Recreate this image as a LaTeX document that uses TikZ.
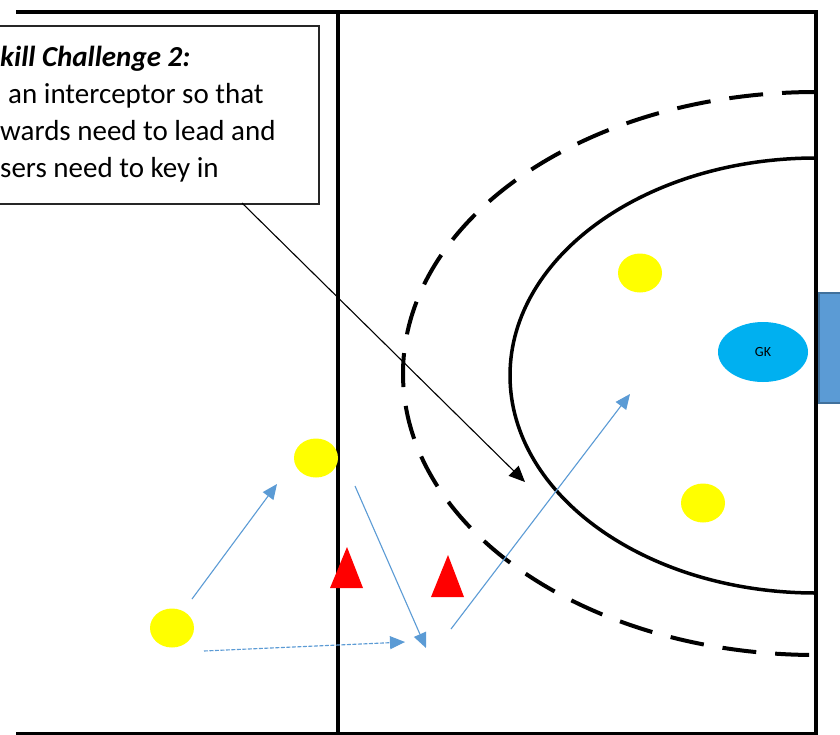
\documentclass[tikz,border=0pt]{standalone}
\usepackage{fontspec}
\setmainfont{Carlito}
\usetikzlibrary{shapes.geometric,arrows.meta}
\definecolor{arrowblue}{HTML}{5B9BD5}
\definecolor{gkblue}{HTML}{00B0F0}
\definecolor{goalblue}{HTML}{5B9BD5}
\definecolor{goaledge}{HTML}{41719C}
\definecolor{dotyellow}{HTML}{FFFF00}
\definecolor{conered}{HTML}{FF0000}
\tikzset{
  pitchline/.style={line width=4pt, black},
  player/.style={ellipse, fill=dotyellow, minimum width=44pt, minimum height=39pt, inner sep=0pt},
  cone/.style={fill=conered, draw=none},
  pass/.style={arrowblue, line width=1.1pt, -{Triangle[length=15pt,width=13pt]}},
  notetext/.style={anchor=base west, inner sep=0pt, font=\fontsize{29}{38}\selectfont},
}
\begin{document}
\begin{tikzpicture}[x=1pt,y=-1pt]
\useasboundingbox (0,0) rectangle (840,734);
\clip (0,0) rectangle (840,734);
\fill[white] (0,0) rectangle (840,734);
% goal post block
\node[draw=goaledge, fill=goalblue, line width=1.5pt, anchor=north west, minimum width=30pt, minimum height=110pt, inner sep=0pt] (goal) at (818,292) {};
% pitch lines
\draw[pitchline] (16,12) -- (818,12);
\draw[pitchline, line width=3pt] (16,733) -- (818,733);
\draw[pitchline] (338,10) -- (338,736);
\draw[pitchline] (816,10) -- (816,736);
% circles
\draw[line width=4pt, dash pattern=on 34pt off 19pt] (816,92) arc[start angle=90, end angle=270, x radius=413pt, y radius=281.5pt];
\draw[line width=3.5pt] (816,158) arc[start angle=90, end angle=270, x radius=306pt, y radius=217.5pt];
% GK
\node[ellipse, fill=gkblue, minimum width=90pt, minimum height=60pt, inner sep=0pt, font=\fontsize{14}{16}\selectfont] (gk) at (763,352) {GK};
% players
\node[player] (p1) at (640,273) {};
\node[player] (p2) at (703,503) {};
\node[player] (p3) at (316,458) {};
\node[player] (p4) at (172,628) {};
% cones
\path[cone] (330,588) -- (347,547) -- (363,588) -- cycle;
\path[cone] (431,597) -- (448,555) -- (464,597) -- cycle;
% note box
\node[draw=black!85, line width=1.5pt, fill=white, anchor=north west, minimum width=328pt, minimum height=178pt, inner sep=0pt] (note) at (-10,25) {};
\node[notetext, font=\fontsize{29}{38}\selectfont\bfseries\itshape] (t1) at (0,66) {kill Challenge 2:};
\node[notetext] (t2) at (8,103) {an interceptor so that};
\node[notetext] (t3) at (0,140) {wards need to lead and};
\node[notetext] (t4) at (0,177) {sers need to key in};
% coordinates for connectors
\coordinate (ns) at (242,203);
\coordinate (nt) at (525,482);
\coordinate (a1s) at (192,599);
\coordinate (a1e) at (277,484);
\coordinate (a2s) at (204,651);
\coordinate (a2e) at (405,642);
\coordinate (a3s) at (355,486);
\coordinate (a3e) at (426,648);
\coordinate (a4s) at (451,629);
\coordinate (a4e) at (630,394);
% connectors
\draw[black, line width=1.1pt, -{Triangle[length=16pt,width=14pt]}] (ns) -- (nt);
\draw[pass] (a1s) -- (a1e);
\draw[pass, dash pattern=on 4pt off 1.5pt] (a2s) -- (a2e);
\draw[pass] (a3s) -- (a3e);
\draw[pass] (a4s) -- (a4e);
\end{tikzpicture}
\end{document}
